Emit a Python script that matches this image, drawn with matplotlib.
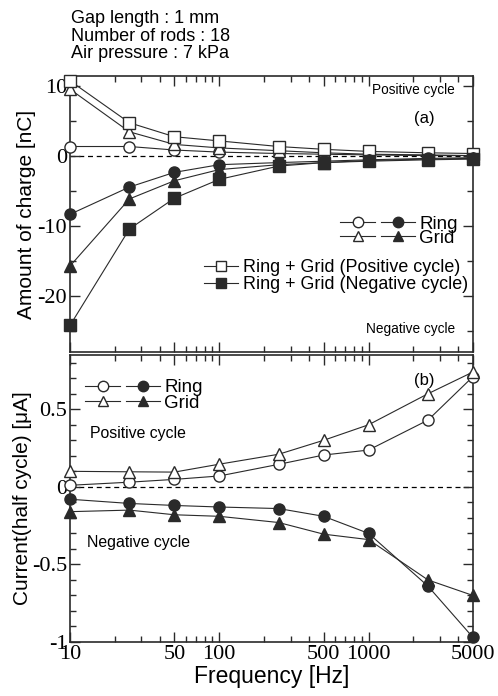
import matplotlib
matplotlib.use('Agg')
import matplotlib.pyplot as plt
from matplotlib.lines import Line2D
from matplotlib.legend_handler import HandlerTuple
from matplotlib.ticker import FixedLocator, NullFormatter, FixedFormatter

plt.rcParams['axes.unicode_minus'] = False
plt.rcParams['font.family'] = 'Liberation Sans'

freq = [10, 25, 50, 100, 250, 500, 1000, 2500, 5000]

# (a) amount of charge [nC]
ring_pos_q = [1.4, 1.4, 0.9, 0.6, 0.4, 0.3, 0.2, 0.1, 0.1]
grid_pos_q = [9.6, 3.5, 1.7, 1.2, 0.8, 0.5, 0.3, 0.2, 0.1]
sum_pos_q = [10.8, 4.8, 2.8, 2.2, 1.4, 1.0, 0.7, 0.5, 0.4]
ring_neg_q = [-8.3, -4.4, -2.3, -1.2, -0.9, -0.7, -0.5, -0.3, -0.2]
grid_neg_q = [-15.7, -6.1, -3.5, -1.9, -1.2, -0.9, -0.6, -0.4, -0.3]
sum_neg_q = [-24.2, -10.4, -6.0, -3.3, -1.4, -0.9, -0.7, -0.5, -0.4]

# (b) current per half cycle [uA]
ring_pos_i = [0.01, 0.03, 0.048, 0.07, 0.145, 0.205, 0.237, 0.43, 0.71]
grid_pos_i = [0.10, 0.097, 0.095, 0.146, 0.21, 0.30, 0.40, 0.60, 0.74]
ring_neg_i = [-0.08, -0.107, -0.12, -0.13, -0.14, -0.19, -0.30, -0.64, -0.97]
grid_neg_i = [-0.16, -0.15, -0.18, -0.19, -0.23, -0.305, -0.34, -0.60, -0.70]

xticks = [10, 50, 100, 500, 1000, 5000]
xminor = [20, 30, 40, 60, 70, 80, 90, 200, 300, 400, 600, 700, 800, 900, 2000, 3000, 4000]

dark = '#2a2a2a'
serif = 'Liberation Serif'

fig = plt.figure(figsize=(4.98, 6.96), dpi=100)
ax1 = fig.add_axes([0.1406, 0.4943, 0.809, 0.3966])
ax2 = fig.add_axes([0.1406, 0.0776, 0.809, 0.4124])


def style(ax, show_x):
    ax.set_xscale('log')
    ax.set_xlim(10, 5000)
    ax.xaxis.set_major_locator(FixedLocator(xticks))
    ax.xaxis.set_minor_locator(FixedLocator(xminor))
    ax.xaxis.set_minor_formatter(NullFormatter())
    if show_x:
        ax.xaxis.set_major_formatter(FixedFormatter([str(v) for v in xticks]))
    else:
        ax.xaxis.set_major_formatter(NullFormatter())
    ax.tick_params(which='both', direction='in', top=True, right=True, width=1.0, color=dark)
    ax.tick_params(which='major', length=7)
    ax.tick_params(which='minor', length=4)
    for s in ax.spines.values():
        s.set_linewidth(1.2)
        s.set_color(dark)
    ax.axhline(0, color='black', lw=0.9, ls=(0, (4, 3)), zorder=1)
    ax.tick_params(labelsize=16, pad=2)
    for lab in ax.get_xticklabels() + ax.get_yticklabels():
        lab.set_fontfamily(serif)


def series(ax, y, marker, filled, ms=8):
    ax.plot(freq, y, color=dark, lw=0.8, marker=marker, ms=ms,
            mfc=dark if filled else 'white', mec=dark, mew=1.0, clip_on=False, zorder=3)


def mk(marker, filled):
    return Line2D([], [], color=dark, lw=0.8, marker=marker, ms=7.5,
                  mfc=dark if filled else 'white', mec=dark, mew=1.0)


# ---- (a)
style(ax1, False)
series(ax1, ring_pos_q, 'o', False)
series(ax1, grid_pos_q, '^', False)
series(ax1, sum_pos_q, 's', False)
series(ax1, ring_neg_q, 'o', True)
series(ax1, grid_neg_q, '^', True)
series(ax1, sum_neg_q, 's', True)
ax1.set_ylim(-28, 11.5)
ax1.set_yticks([10, 0, -10, -20])
ax1.set_yticklabels(['10', '0', '-10', '-20'], fontfamily=serif, fontsize=16)
ax1.set_yticks([5, -5, -15, -25], minor=True)
ax1.set_ylabel('Amount of charge [nC]', fontsize=15, labelpad=1)

ax1.text(0.955, 0.95, 'Positive cycle', transform=ax1.transAxes, ha='right', va='center', fontsize=9.8)
ax1.text(0.88, 0.845, '(a)', transform=ax1.transAxes, ha='center', va='center', fontsize=12)
ax1.text(0.955, 0.085, 'Negative cycle', transform=ax1.transAxes, ha='right', va='center', fontsize=9.8)

leg1 = ax1.legend([(mk('o', False), mk('o', True)), (mk('^', False), mk('^', True))],
                  ['Ring', 'Grid'], handler_map={tuple: HandlerTuple(ndivide=None, pad=0.3)},
                  loc='upper right', bbox_to_anchor=(0.99, 0.535), frameon=False,
                  fontsize=13.5, handlelength=4.0, handletextpad=0.2, labelspacing=-0.15,
                  borderpad=0.1)
ax1.add_artist(leg1)
ax1.legend([mk('s', False), mk('s', True)],
           ['Ring + Grid (Positive cycle)', 'Ring + Grid (Negative cycle)'],
           loc='upper right', bbox_to_anchor=(1.015, 0.375), frameon=False,
           fontsize=12.9, handlelength=1.9, handletextpad=0.3, labelspacing=0.0,
           borderpad=0.1)

# ---- (b)
style(ax2, True)
series(ax2, ring_pos_i, 'o', False)
series(ax2, grid_pos_i, '^', False)
series(ax2, ring_neg_i, 'o', True)
series(ax2, grid_neg_i, '^', True)
ax2.set_ylim(-1, 0.85)
ax2.set_yticks([0.5, 0, -0.5, -1])
ax2.set_yticklabels(['0.5', '0', '-0.5', '-1'], fontfamily=serif, fontsize=16)
ax2.set_yticks([0.8, 0.7, 0.6, 0.4, 0.3, 0.2, 0.1, -0.1, -0.2, -0.3, -0.4,
                -0.6, -0.7, -0.8, -0.9], minor=True)
ax2.set_ylabel('Current(half cycle) [\u03bcA]', fontsize=15, labelpad=0)
ax2.set_xlabel('Frequency [Hz]', fontsize=16.5, labelpad=1)

ax2.legend([(mk('o', False), mk('o', True)), (mk('^', False), mk('^', True))],
           ['Ring', 'Grid'], handler_map={tuple: HandlerTuple(ndivide=None, pad=0.3)},
           loc='upper left', bbox_to_anchor=(0.01, 0.955), frameon=False,
           fontsize=13.5, handlelength=4.0, handletextpad=0.2, labelspacing=-0.1,
           borderpad=0.1)
ax2.text(0.88, 0.91, '(b)', transform=ax2.transAxes, ha='center', va='center', fontsize=12)
ax2.text(0.05, 0.725, 'Positive cycle', transform=ax2.transAxes, ha='left', va='center', fontsize=11.4)
ax2.text(0.042, 0.345, 'Negative cycle', transform=ax2.transAxes, ha='left', va='center', fontsize=11.4)

fig.text(0.143, 0.985, 'Gap length : 1 mm\nNumber of rods : 18\nAir pressure : 7 kPa',
         ha='left', va='top', fontsize=13, linespacing=1.02)

fig.savefig('out.png', dpi=100)
